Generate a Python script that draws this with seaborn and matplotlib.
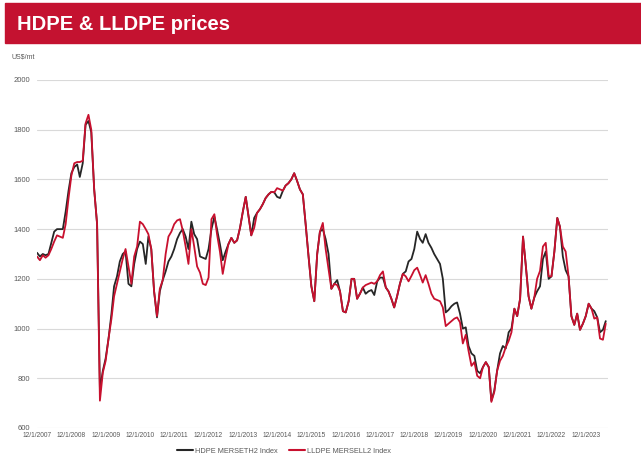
import matplotlib
matplotlib.use("Agg")
from matplotlib import pyplot as plt
import seaborn as sns
import pandas as pd

# monthly points, Dec 2007 .. Jul 2024
dates = pd.date_range("2007-12-01", periods=200, freq="MS")

hdpe = [
    1305, 1290, 1300, 1295, 1300, 1345, 1390, 1400, 1400, 1400,
    1470, 1555, 1625, 1650, 1660, 1610, 1665, 1820, 1835, 1790,
    1560, 1420, 755, 830, 880, 960, 1060, 1170, 1210, 1270,
    1300, 1310, 1180, 1170, 1260, 1320, 1350, 1340, 1260, 1370,
    1320, 1150, 1045, 1150, 1195, 1230, 1270, 1290, 1320, 1360,
    1385, 1400, 1370, 1320, 1430, 1380, 1360, 1290, 1285, 1280,
    1320, 1400, 1450, 1400, 1340, 1275, 1310, 1340, 1365, 1345,
    1355, 1405, 1470, 1530, 1450, 1375, 1445, 1465, 1480, 1500,
    1525, 1540, 1550, 1548, 1530, 1525, 1555, 1575, 1585, 1600,
    1625, 1595, 1560, 1540, 1420, 1290, 1170, 1110, 1300, 1390,
    1400, 1360, 1300, 1160, 1180, 1195, 1150, 1070, 1065, 1110,
    1200, 1200, 1120, 1140, 1165, 1140, 1150, 1155, 1135, 1190,
    1205, 1205, 1165, 1150, 1120, 1085, 1130, 1180, 1220, 1230,
    1270, 1280, 1320, 1390, 1360, 1345, 1380, 1345, 1325, 1300,
    1280, 1260, 1200, 1065, 1075, 1090, 1100, 1105, 1060, 1000,
    1005, 930, 900, 890, 830, 820, 845, 865, 845, 710,
    750, 830, 900, 930, 920, 985, 1000, 1080, 1050, 1120,
    1370, 1260, 1130, 1080, 1125, 1150, 1170, 1280, 1310, 1200,
    1210, 1310, 1445, 1410, 1290, 1235, 1210, 1050, 1015, 1060,
    995, 1020, 1050, 1100, 1080, 1070, 1045, 985, 995, 1030,
]

lldpe = [
    1290, 1275, 1295, 1285, 1295, 1320, 1350, 1375, 1370, 1365,
    1420, 1525, 1615, 1665, 1670, 1670, 1675, 1825, 1860, 1800,
    1560, 1420, 710, 823, 870, 960, 1040, 1130, 1180, 1230,
    1280, 1320, 1250, 1180, 1290, 1330, 1430, 1420, 1400, 1380,
    1320, 1150, 1050, 1160, 1195, 1300, 1370, 1390, 1420, 1435,
    1440, 1395, 1330, 1260, 1400, 1330, 1250, 1225, 1180, 1175,
    1205, 1440, 1460, 1380, 1310, 1220, 1285, 1340, 1365, 1345,
    1355, 1405, 1470, 1530, 1450, 1375, 1405, 1465, 1480, 1500,
    1525, 1540, 1550, 1548, 1565, 1560, 1555, 1575, 1585, 1600,
    1625, 1595, 1560, 1540, 1420, 1290, 1170, 1110, 1300, 1390,
    1425, 1320, 1240, 1160, 1180, 1175, 1150, 1070, 1065, 1110,
    1200, 1200, 1120, 1140, 1165, 1175, 1180, 1185, 1180, 1190,
    1215, 1230, 1165, 1150, 1120, 1085, 1130, 1180, 1220, 1210,
    1190, 1212, 1235, 1245, 1215, 1185, 1215, 1180, 1140, 1120,
    1115, 1110, 1085, 1010, 1020, 1030, 1040, 1045, 1025, 940,
    975, 910, 850, 865, 810, 800, 845, 865, 845, 705,
    745, 830, 870, 890, 925, 950, 985, 1080, 1050, 1120,
    1370, 1260, 1130, 1080, 1125, 1200, 1232, 1330, 1345, 1210,
    1210, 1310, 1445, 1410, 1330, 1310, 1210, 1050, 1015, 1060,
    995, 1020, 1050, 1100, 1080, 1040, 1045, 960, 955, 1020,
]

series_names = ["HDPE MERSETH2 Index", "LLDPE MERSELL2 Index"]
tick_years = list(range(2007, 2024))
y_ticks = [600, 800, 1000, 1200, 1400, 1600, 1800, 2000]

sns.set_style("white")
plt.rcParams["font.family"] = ["Liberation Sans Narrow", "Liberation Sans", "DejaVu Sans"]

df = pd.concat([
    pd.DataFrame({"date": dates, "price": hdpe, "series": series_names[0]}),
    pd.DataFrame({"date": dates, "price": lldpe, "series": series_names[1]}),
])

fig = plt.figure(figsize=(6.41, 4.57), dpi=100)
ax = fig.add_axes([37 / 641, 29 / 457, 571 / 641, 348 / 457])

# title banner
fig.patches.append(plt.Rectangle((5 / 641, 1 - 43 / 457), 1, 40 / 457,
                                 transform=fig.transFigure, color="#C41230", zorder=0))
fig.text(17 / 641, 1 - 24 / 457, "HDPE & LLDPE prices", color="white",
         fontsize=14.5, fontweight="bold", va="center", ha="left")
fig.text(12 / 641, 1 - 57 / 457, "US$/mt", color="#595959", fontsize=5, va="center")

sns.lineplot(data=df, x="date", y="price", hue="series", ax=ax,
             palette=["#262626", "#C8102E"], linewidth=1.3, legend=False)

ax.set_ylim(600, 2000)
ax.set_yticks(y_ticks)
ax.set_xlim(pd.Timestamp("2007-12-01"), pd.Timestamp("2024-07-25"))
ax.set_xticks([pd.Timestamp(f"{y}-12-01") for y in tick_years])
ax.set_xticklabels([f"12/1/{y}" for y in tick_years])
ax.grid(axis="y", color="#D9D9D9", linewidth=0.8)
ax.set_axisbelow(True)
for s in ax.spines.values():
    s.set_visible(False)
ax.tick_params(axis="y", length=0, pad=5, labelsize=5.5, labelcolor="#595959")
ax.tick_params(axis="x", length=0, pad=3, labelsize=4.8, labelcolor="#595959")
ax.set_xlabel("")
ax.set_ylabel("")

handles = [plt.Line2D([], [], color="#262626", linewidth=1.5),
           plt.Line2D([], [], color="#C8102E", linewidth=1.5)]
fig.legend(handles, series_names, loc="center", bbox_to_anchor=(284 / 641, 1 - 451 / 457),
           ncol=2, frameon=False, fontsize=5.3, handlelength=2.2, handletextpad=0.3,
           columnspacing=1.5, labelcolor="#595959")

fig.savefig("out.png", dpi=100)
plt.close(fig)
